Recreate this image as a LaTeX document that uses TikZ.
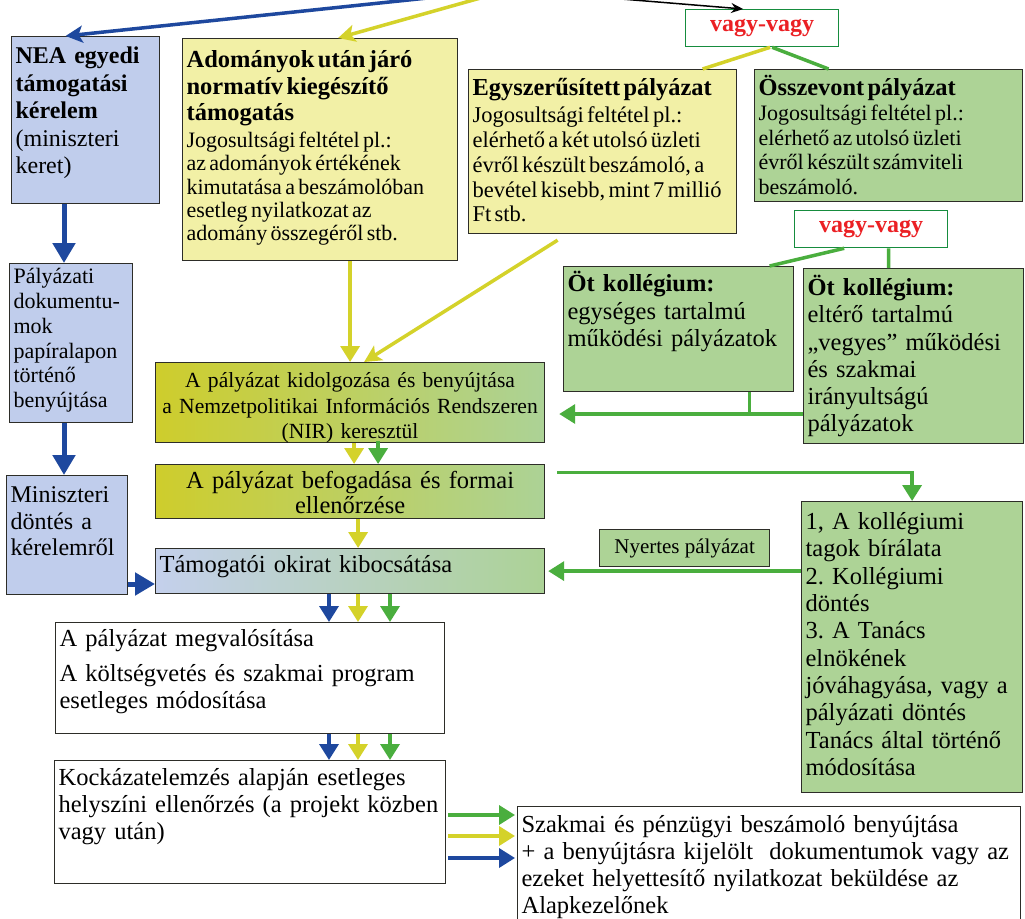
\documentclass[tikz,border=0pt]{standalone}
\usepackage{fontspec}
\setmainfont{Liberation Serif}
\usetikzlibrary{arrows.meta}
\frenchspacing

\definecolor{fillblue}{RGB}{192,205,236}
\definecolor{fillyellow}{RGB}{242,240,166}
\definecolor{fillgreen}{RGB}{173,211,150}
\definecolor{shadeyellow}{RGB}{206,205,44}
\definecolor{shadegreen}{RGB}{172,210,150}
\definecolor{shadeblue}{RGB}{196,208,236}
\definecolor{edgegray}{RGB}{45,45,40}
\definecolor{arrowblue}{RGB}{30,72,158}
\definecolor{arrowyellow}{RGB}{212,210,42}
\definecolor{arrowgreen}{RGB}{74,174,62}
\definecolor{vvgreen}{RGB}{22,140,62}
\definecolor{vvred}{RGB}{235,32,36}

\tikzset{
	boxbase/.style={rectangle, draw=edgegray, line width=1.2pt, anchor=north west,
		inner sep=4pt, align=left},
	bluenode/.style={boxbase, fill=fillblue},
	yellownode/.style={boxbase, fill=fillyellow},
	greennode/.style={boxbase, fill=fillgreen},
	whitenode/.style={boxbase, fill=white},
	shadenode/.style={boxbase, left color=shadeyellow, right color=shadegreen},
	vvnode/.style={rectangle, draw=vvgreen, line width=1.3pt, fill=white, anchor=north west,
		minimum width=153pt, minimum height=37pt, inner sep=0pt, text=vvred,
		font=\fontsize{24}{26}\selectfont\bfseries},
	flow/.style={line width=3.5pt, -{Triangle[width=19pt,length=16pt]}},
	bigflow/.style={line width=5pt, draw=arrowblue, -{Triangle[width=22pt,length=20pt]}},
	slant/.style={line width=3.5pt, -{Stealth[width=17pt,length=17pt,inset=4pt]}},
	plainline/.style={line width=3.5pt},
}

\begin{document}
\begin{tikzpicture}[x=1pt,y=-1pt]
\fill[white] (0,0) rectangle (1025,918);
\useasboundingbox (0,0) rectangle (1025,918);

%NEA egyedi kerelem
\node[bluenode, text width=140pt, text height=23pt, text depth=136pt,
font=\fontsize{24}{27.5}\selectfont] (nea) at (11,36) {
	{\bfseries NEA egyedi\\ támogatási\\ kérelem}\\
	(miniszteri\\ keret)
	};

%Adomanyok utan jaro tamogatas
\node[yellownode, text width=267pt, text height=25pt, text depth=189pt] (ado) at (182,38) {
	{\fontsize{24.5}{26.5}\selectfont\bfseries Adományok után járó\\ normatív kiegészítő\\ támogatás\par}
	\vspace{3.7pt}
	{\fontsize{22}{23.3}\selectfont Jogosultsági feltétel pl.:\\
	az adományok értékének\\
	kimutatása a beszámolóban\\
	esetleg nyilatkozat az\\
	adomány összegéről stb.\par}
	};

%vagy-vagy (felso)
\node[vvnode] (vv1) at (685,9) {vagy-vagy};

%Egyszerusitett palyazat
\node[yellownode, text width=260pt, text height=22pt, text depth=134pt] (egy) at (468,69) {
	{\fontsize{24.4}{26}\selectfont\bfseries Egyszerűsített pályázat\par}
	\vspace{2.2pt}
	{\fontsize{22.5}{24.8}\selectfont Jogosultsági feltétel pl.:\\
	elérhető a két utolsó üzleti\\
	évről készült beszámoló, a\\
	bevétel kisebb, mint 7 millió\\
	Ft stb.\par}
	};

%Osszevont palyazat
\node[greennode, text width=260pt, text height=22pt, text depth=102pt] (osz) at (754,69) {
	{\fontsize{24.4}{26}\selectfont\bfseries Összevont pályázat\par}
	\vspace{0.4pt}
	{\fontsize{22}{24.6}\selectfont Jogosultsági feltétel pl.:\\
	elérhető az utolsó üzleti\\
	évről készült számviteli\\
	beszámoló.\par}
	};

%vagy-vagy (kollegiumok)
\node[vvnode] (vv2) at (794,210) {vagy-vagy};

%Ot kollegium - egyseges
\node[greennode, text width=222pt, text height=21pt, text depth=96pt,
font=\fontsize{24.5}{27.5}\selectfont] (ot1) at (563,266) {
	{\bfseries Öt kollégium:}\\
	egységes tartalmú\\
	működési pályázatok
	};

%Ot kollegium - eltero
\node[greennode, text width=212pt, text height=23pt, text depth=144pt,
font=\fontsize{24.5}{27.2}\selectfont] (ot2) at (803,268) {
	{\bfseries Öt kollégium:}\\
	eltérő tartalmú\\
	„vegyes” működési\\
	és szakmai\\
	irányultságú\\
	pályázatok
	};

%Palyazati dokumentumok
\node[bluenode, text width=115pt, text height=16pt, text depth=135pt,
font=\fontsize{22}{24.8}\selectfont] (pal) at (9,263) {
	Pályázati\\ dokumentu-\\ mok\\ papíralapon\\ történő\\ benyújtása
	};

%Miniszteri dontes
\node[bluenode, text width=113pt, text height=23pt, text depth=88pt,
font=\fontsize{24}{26.5}\selectfont] (min) at (6,475) {
	Miniszteri\\ döntés a\\ kérelemről
	};

%Kidolgozas es benyujtas
\node[shadenode, align=center, text width=385pt, inner xsep=2pt, text height=21pt, text depth=51pt,
font=\fontsize{21.6}{25.5}\selectfont] (kid) at (155,362) {
	A pályázat kidolgozása és benyújtása\\
	\mbox{a Nemzetpolitikai Információs Rendszeren}\\
	(NIR) keresztül
	};

%Befogadas
\node[shadenode, align=center, text width=381pt, text height=20pt, text depth=26pt,
font=\fontsize{24.5}{25}\selectfont] (bef) at (155,464) {
	A pályázat befogadása és formai\\ ellenőrzése
	};

%Tamogatoi okirat
\node[boxbase, left color=shadeblue, middle color=fillyellow, right color=shadegreen,
text width=381pt, text height=20pt, text depth=17pt,
font=\fontsize{24.5}{27}\selectfont] (tam) at (155,548) {
	Támogatói okirat kibocsátása
	};

%Nyertes palyazat
\node[greennode, align=center, minimum width=170pt, minimum height=37pt, inner sep=0pt,
font=\fontsize{21}{23}\selectfont] (nye) at (599,529) {Nyertes pályázat};

%Kollegiumi biralat
\node[greennode, text width=213pt, text height=24pt, text depth=259pt,
font=\fontsize{24.5}{27.3}\selectfont] (kol) at (801,501) {
	1, A kollégiumi\\
	tagok bírálata\\
	2. Kollégiumi\\
	döntés\\
	3. A Tanács\\
	elnökének\\
	jóváhagyása, vagy a\\
	pályázati döntés\\
	Tanács által történő\\
	módosítása
	};

%Megvalositas
\node[whitenode, text width=381pt, text height=20pt, text depth=83pt,
font=\fontsize{24.5}{27.5}\selectfont] (meg) at (55,622) {
	A pályázat megvalósítása\\[7pt]
	A költségvetés és szakmai program\\
	esetleges módosítása
	};

%Kockazatelemzes
\node[whitenode, text width=383pt, text height=21pt, text depth=94pt,
font=\fontsize{24.5}{27}\selectfont] (koc) at (54,760) {
	Kockázatelemzés alapján esetleges\\
	helyszíni ellenőrzés (a projekt közben\\
	vagy után)
	};

%Beszamolo
\node[whitenode, text width=495pt, text height=22pt, text depth=94pt,
font=\fontsize{24.5}{27}\selectfont] (sza) at (517,806) {
	Szakmai és pénzügyi beszámoló benyújtása\\
	+ a benyújtásra kijelölt~ dokumentumok vagy az\\
	ezeket helyettesítő nyilatkozat beküldése az\\
	Alapkezelőnek
	};

%Paths
\coordinate (topblue) at (437,-3);
\coordinate (topyellow) at (484,-3);
\coordinate (topblack) at (609,-2);
\coordinate (bluecol) at (64,0);
\coordinate (bluerow) at (0,584);
\coordinate (mergey) at (0,414);
\coordinate (colb) at (329,0);
\coordinate (coly) at (358,0);
\coordinate (colg) at (390,0);
\coordinate (rowg) at (0,815);
\coordinate (rowy) at (0,836);
\coordinate (rowb) at (0,858);

%incoming from above
\draw[slant, draw=arrowblue] (topblue) -- ([xshift=-20pt]nea.north);
\draw[slant, draw=arrowyellow] (topyellow) -- ([xshift=18pt]ado.north);
\draw[line width=1.5pt, -{Stealth[length=12pt,width=10pt]}] (topblack) -- ([xshift=-19pt]vv1.north);

%vagy-vagy to the two applications
\draw[plainline, draw=arrowyellow] ([xshift=8pt]vv1.south) -- ([xshift=100pt]egy.north);
\draw[plainline, draw=arrowgreen] ([xshift=10pt]vv1.south) -- ([xshift=-60pt]osz.north);

%applications to NIR
\draw[flow, draw=arrowyellow] (ado.south -| kid.north) -- (kid.north);
\draw[slant, draw=arrowyellow] ([xshift=-45pt,yshift=-6pt]egy.south) -- ([xshift=14pt]kid.north);

%vagy-vagy to kollegiumok
\draw[plainline, draw=arrowgreen] ([xshift=-27pt]vv2.south) -- ([xshift=91pt]ot1.north);
\draw[plainline, draw=arrowgreen] ([xshift=17.5pt]vv2.south) -- ([xshift=-25pt]ot2.north);

%kollegiumok to NIR
\coordinate (otdrop) at ([xshift=71pt]ot1.south);
\draw[plainline, draw=arrowgreen] (otdrop) -- (otdrop |- mergey);
\draw[flow, draw=arrowgreen, shorten >=14pt] (ot2.west |- mergey) -- (kid.east |- mergey);

%NIR to befogadas to okirat
\draw[flow, draw=arrowyellow] ([xshift=4pt]kid.south) -- ([xshift=4pt]bef.north);
\draw[flow, draw=arrowgreen] ([xshift=28pt,yshift=2pt]kid.south) -- ([xshift=28pt]bef.north);
\draw[flow, draw=arrowyellow] ([xshift=8pt]bef.south) -- ([xshift=8pt]tam.north);

%befogadas to biralat, biralat to okirat
\draw[flow, draw=arrowgreen] ([xshift=12pt,yshift=19pt]bef.east) -| (kol.north);
\draw[flow, draw=arrowgreen, shorten >=3pt] (kol.west |- tam.east) -- (tam.east);

%miniszteri ag
\draw[bigflow] (bluecol |- nea.south) -- (bluecol |- pal.north);
\draw[bigflow] (bluecol |- pal.south) -- (bluecol |- min.north);
\draw[bigflow] (min.east |- bluerow) -- (tam.west |- bluerow);

%okirat to megvalositas to ellenorzes
\foreach \col/\clr in {colb/arrowblue, coly/arrowyellow, colg/arrowgreen}{
	\draw[flow, draw=\clr] (\col |- tam.south) -- (\col |- meg.north);
	\draw[flow, draw=\clr] (\col |- meg.south) -- (\col |- koc.north);
}

%ellenorzes to beszamolo
\foreach \row/\clr in {rowg/arrowgreen, rowy/arrowyellow, rowb/arrowblue}{
	\draw[flow, draw=\clr, shorten <=2pt, shorten >=2pt] (koc.east |- \row) -- (sza.west |- \row);
}

\end{tikzpicture}
\end{document}
